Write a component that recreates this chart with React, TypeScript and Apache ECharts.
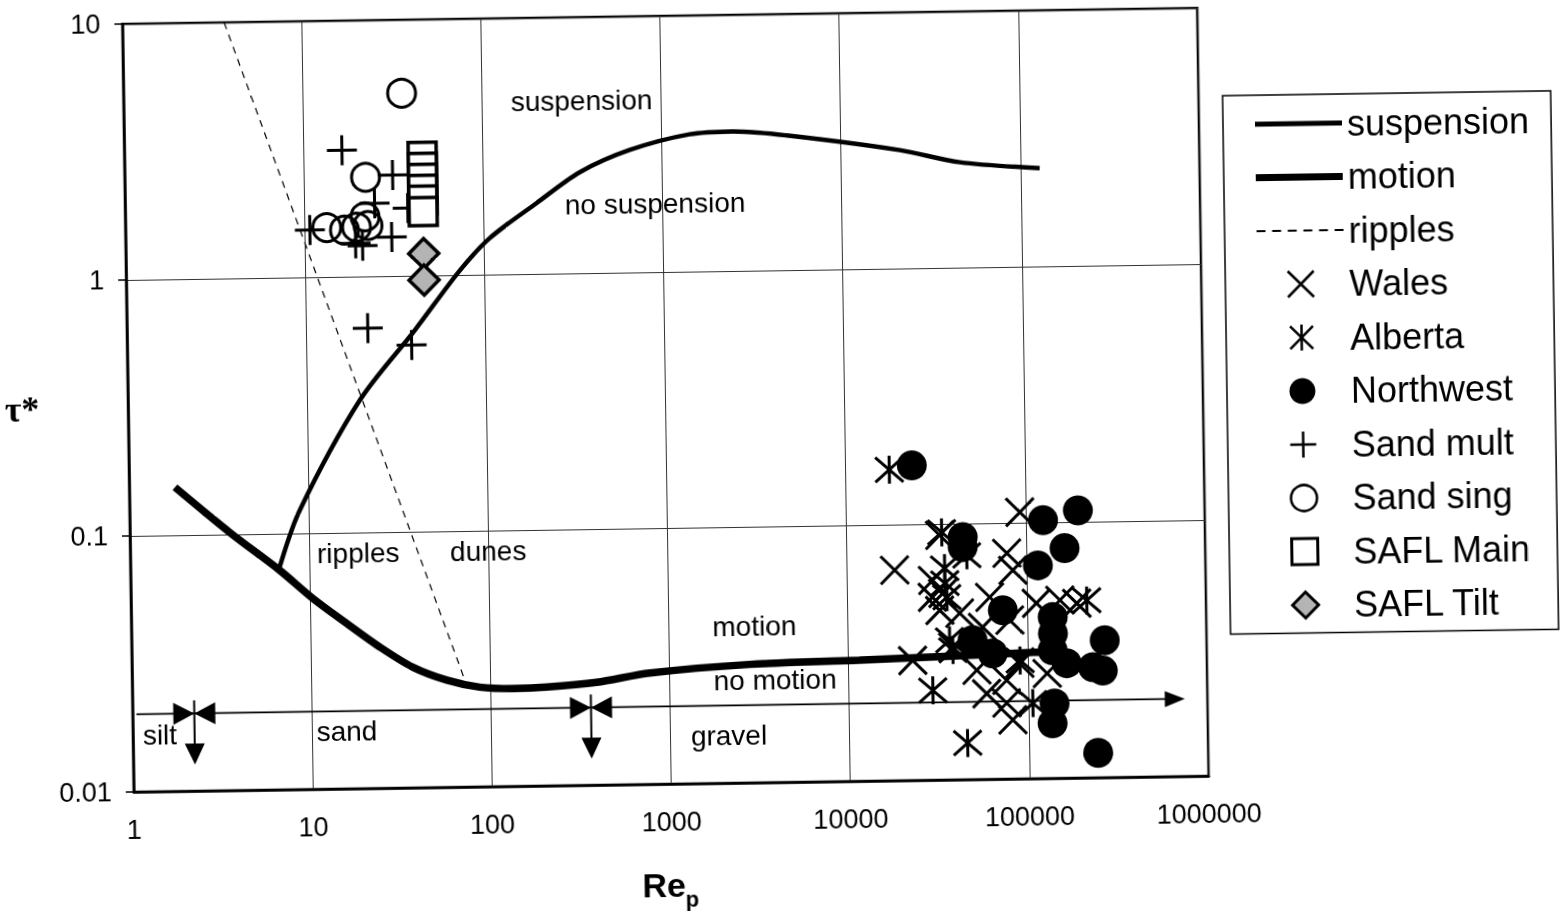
import React, { useEffect, useRef } from 'react';
import * as echarts from 'echarts';

// ---------- data (Re_p, tau*) ----------
const suspensionX = [6.8, 8.9, 19.7, 40.4, 72.8, 108, 198, 347, 662, 1438, 2500, 5000, 21300, 45900, 128000];
const suspensionY = [0.074, 0.123, 0.329, 0.612, 1.04, 1.39, 1.89, 2.48, 3.01, 3.44, 3.51, 3.36, 2.9, 2.58, 2.42];

const motionX = [1.8, 3.6, 6.8, 10.35, 15.9, 24.3, 36.9, 57.2, 86.9, 133, 206, 391, 776, 2800, 11500, 107000, 130000];
const motionY = [0.154, 0.102, 0.072, 0.0557, 0.0443, 0.0356, 0.0296, 0.0262, 0.0245, 0.0241, 0.0243, 0.0252, 0.0272, 0.029, 0.0297, 0.0311, 0.0313];

const ripplesX = [3.7, 72];
const ripplesY = [10, 0.0261];

const wales = [
  [92900, 0.11], [18400, 0.0664], [78000, 0.0762], [84000, 0.0653], [33000, 0.0904], [29900, 0.0603],
  [29700, 0.0518], [34000, 0.0536], [32600, 0.046], [42100, 0.0447], [62100, 0.0514], [80000, 0.0417],
  [113000, 0.0484], [153000, 0.0496], [190000, 0.0481], [56400, 0.0393], [38300, 0.033], [22800, 0.0294],
  [51900, 0.0267], [76000, 0.0243], [90200, 0.0282], [75700, 0.0198], [81600, 0.017], [128000, 0.0257],
  [58700, 0.0216],
];
const alberta = [
  [17500, 0.164], [33900, 0.0927], [46600, 0.0751], [35000, 0.0671], [35000, 0.0586], [35800, 0.0517],
  [216000, 0.0493], [36800, 0.0351], [38300, 0.0321], [29400, 0.0224], [106000, 0.0197], [45500, 0.0139],
  [90600, 0.029],
];
const northwest = [
  [23400, 0.17], [196000, 0.111], [125000, 0.102], [44400, 0.0885], [44300, 0.0809], [164000, 0.0791],
  [116000, 0.068], [73300, 0.0456], [139000, 0.0426], [270000, 0.0344], [49400, 0.035], [63800, 0.031],
  [138000, 0.0316], [139000, 0.0368], [165000, 0.0281], [231000, 0.027], [262000, 0.0262], [140000, 0.0196],
  [136000, 0.0164], [243000, 0.0125],
];
const sandMult = [
  [16.4, 3.12], [31.3, 2.48], [24.7, 1.93], [37.8, 1.84], [10.7, 1.53], [19.2, 1.35], [21, 1.32],
  [30.6, 1.42], [22.1, 0.628], [38.7, 0.536],
];
const sandSing = [
  [35.7, 5.17], [22.1, 2.44], [13.3, 1.56], [16.7, 1.52], [19.5, 1.56], [21.8, 1.71], [22.6, 1.58],
];
const saflMain = [[46, 2.92], [46, 2.65], [46, 2.4], [46, 2.17], [46, 1.97], [46, 1.78]];
const saflTilt = [[46, 1.22], [46, 0.96]];

// grain size classes annotation
const classLevel = 0.0201;
const classLineStart = 1.05;
const classLineEnd = 747000;
const siltSandBoundary = 2.21;
const sandGravelBoundary = 362;
const boundaryTop = 0.0226;
const boundaryBottom = 0.0127;

const xTicks = [1, 10, 100, 1000, 10000, 100000, 1000000];
const yTicks = [0.01, 0.1, 1, 10];

const FONT = "'Liberation Sans', Arial, Helvetica, sans-serif";
const X_PATH = 'path://M0,0L10,10M10,0L0,10';
const PLUS_PATH = 'path://M5,0L5,10M0,5L10,5';
const AST_PATH = 'path://M0.6,0.6L9.4,9.4M9.4,0.6L0.6,9.4M5,0L5,10';
const SUSP_ICON = 'path://M0,0H87V5H0Z';
const MOTION_ICON = 'path://M0,0H87V7H0Z';
const RIPPLE_ICON = 'path://M0,0H8V1.6H0Z M14,0H22V1.6H14Z M28,0H36V1.6H28Z M42,0H50V1.6H42Z M56,0H64V1.6H56Z M70,0H78V1.6H70Z';
const SQUARE_ICON = 'path://M0,0H10V10H0Z';
const DIAMOND_ICON = 'path://M5,0L10,5L5,10L0,5Z';

const zip = (xs: number[], ys: number[]) => xs.map((x, i) => [x, ys[i]]);
const fmt = (v: number) => String(Number(Number(v).toPrecision(6)));

export default function App() {
  const ref = useRef<HTMLDivElement>(null);

  useEffect(() => {
    if (!ref.current) return;
    const chart = echarts.init(ref.current, null, { renderer: 'svg' });

    const stroke = (w: number) => ({ color: 'transparent', borderColor: '#000', borderWidth: w, opacity: 1 });

    const option: any = {
      animation: false,
      backgroundColor: '#fff',
      grid: {
        left: 128, top: 16, width: 1075, height: 768,
        show: true, borderColor: '#000', borderWidth: 2.5, backgroundColor: 'transparent',
      },
      xAxis: {
        type: 'log', logBase: 10, min: xTicks[0], max: xTicks[xTicks.length - 1],
        axisLine: { lineStyle: { color: '#000', width: 2.5 } },
        axisTick: { show: false },
        splitLine: { show: true, lineStyle: { color: '#333', width: 1 } },
        axisLabel: { color: '#000', fontSize: 27, fontFamily: FONT, margin: 24, formatter: fmt },
      },
      yAxis: {
        type: 'log', logBase: 10, min: yTicks[0], max: yTicks[yTicks.length - 1],
        axisLine: { lineStyle: { color: '#000', width: 2.5 } },
        axisTick: { show: true, length: 8, lineStyle: { color: '#000', width: 1.5 } },
        splitLine: { show: true, lineStyle: { color: '#333', width: 1 } },
        axisLabel: { color: '#000', fontSize: 27, fontFamily: FONT, margin: 22, formatter: fmt },
      },
      legend: {
        orient: 'vertical', left: 1227, top: 104,
        padding: [11, 22, 10, 32], itemGap: 17.5, itemWidth: 87, itemHeight: 26,
        borderColor: '#000', borderWidth: 1.5, backgroundColor: '#fff',
        textStyle: { fontSize: 36, fontFamily: FONT, color: '#000' },
        data: [
          { name: 'suspension', icon: SUSP_ICON, itemStyle: { borderWidth: 0 } },
          { name: 'motion', icon: MOTION_ICON, itemStyle: { borderWidth: 0 } },
          { name: 'ripples', icon: RIPPLE_ICON, itemStyle: { borderWidth: 0 } },
          { name: 'Wales', itemStyle: { borderWidth: 2.5 } },
          { name: 'Alberta', itemStyle: { borderWidth: 2.5 } },
          { name: 'Northwest' },
          { name: 'Sand mult', itemStyle: { borderWidth: 2.5 } },
          { name: 'Sand sing', itemStyle: { borderWidth: 2.5 } },
          { name: 'SAFL Main', icon: SQUARE_ICON, itemStyle: { borderWidth: 3 } },
          { name: 'SAFL Tilt', icon: DIAMOND_ICON, itemStyle: { borderWidth: 3 } },
        ],
      },
      series: [
        {
          name: 'suspension', type: 'line', data: zip(suspensionX, suspensionY), symbol: 'none', showSymbol: false,
          smooth: 0.3, lineStyle: { color: '#000', width: 4.5 }, itemStyle: { color: '#000' }, z: 2,
        },
        {
          name: 'motion', type: 'line', data: zip(motionX, motionY), symbol: 'none', showSymbol: false,
          smooth: 0.3, lineStyle: { color: '#000', width: 7.5 }, itemStyle: { color: '#000' }, z: 2,
        },
        {
          name: 'ripples', type: 'line', data: zip(ripplesX, ripplesY), symbol: 'none', showSymbol: false,
          lineStyle: { color: '#000', width: 1.2, type: [7, 6] }, itemStyle: { color: '#000' }, z: 2,
        },
        { name: 'Wales', type: 'scatter', data: wales, symbol: X_PATH, symbolSize: 28, itemStyle: stroke(3), z: 3 },
        { name: 'Alberta', type: 'scatter', data: alberta, symbol: AST_PATH, symbolSize: 28, itemStyle: stroke(3), z: 3 },
        { name: 'Northwest', type: 'scatter', data: northwest, symbol: 'circle', symbolSize: 30, itemStyle: { color: '#000', opacity: 1 }, z: 4 },
        { name: 'Sand mult', type: 'scatter', data: sandMult, symbol: PLUS_PATH, symbolSize: 30, itemStyle: stroke(3), z: 3 },
        { name: 'Sand sing', type: 'scatter', data: sandSing, symbol: 'circle', symbolSize: 28, itemStyle: stroke(3), z: 3 },
        { name: 'SAFL Main', type: 'scatter', data: saflMain, symbol: 'rect', symbolSize: 28, itemStyle: { color: '#fff', borderColor: '#000', borderWidth: 3.5, opacity: 1 }, z: 3 },
        { name: 'SAFL Tilt', type: 'scatter', data: saflTilt, symbol: 'diamond', symbolSize: 30, itemStyle: { color: '#b4b4b4', borderColor: '#000', borderWidth: 3.5, opacity: 1 }, z: 3 },
      ],
    };
    chart.setOption(option);

    const px = (x: number, y: number) => chart.convertToPixel({ gridIndex: 0 }, [x, y]) as number[];
    const graphic: any[] = [];
    const txt = (text: string, x: number, y: number, size: number, bold = false, family = FONT) => ({
      type: 'text', x, y, z: 10,
      style: { text, fill: '#000', font: `${bold ? 'bold ' : ''}${size}px ${family}`, align: 'center', verticalAlign: 'middle' },
    });
    graphic.push(txt('suspension', 586, 99, 28));
    graphic.push(txt('no suspension', 658, 203, 28));
    graphic.push(txt('ripples', 356, 548, 28));
    graphic.push(txt('dunes', 486, 548, 28));
    graphic.push(txt('motion', 751, 627, 28));
    graphic.push(txt('no motion', 771, 681, 28));
    graphic.push(txt('silt', 155, 727, 28));
    graphic.push(txt('sand', 342, 726, 28));
    graphic.push(txt('gravel', 724, 736, 28));
    graphic.push(txt('τ*', 22, 400, 36, true, "'Liberation Serif', 'DejaVu Serif', serif"));
    graphic.push(txt('Re', 657, 885, 34, true));
    graphic.push(txt('p', 685, 899, 22, true));

    // size-class arrows
    const [lx1, ly] = px(classLineStart, classLevel);
    const [lx2] = px(classLineEnd, classLevel);
    graphic.push({ type: 'line', z: 5, shape: { x1: lx1, y1: ly, x2: lx2 - 18, y2: ly }, style: { stroke: '#000', lineWidth: 1.8 } });
    graphic.push({ type: 'polygon', z: 5, shape: { points: [[lx2, ly], [lx2 - 20, ly - 8], [lx2 - 20, ly + 8]] }, style: { fill: '#000' } });
    [siltSandBoundary, sandGravelBoundary].forEach((b) => {
      const [bx, by1] = px(b, boundaryTop);
      const [, by2] = px(b, boundaryBottom);
      graphic.push({ type: 'line', z: 5, shape: { x1: bx, y1: by1, x2: bx, y2: by2 - 18 }, style: { stroke: '#000', lineWidth: 2 } });
      graphic.push({ type: 'polygon', z: 5, shape: { points: [[bx, by2], [bx - 10, by2 - 21], [bx + 10, by2 - 21]] }, style: { fill: '#000' } });
      graphic.push({ type: 'polygon', z: 5, shape: { points: [[bx, ly], [bx - 21, ly - 11], [bx - 21, ly + 11]] }, style: { fill: '#000' } });
      graphic.push({ type: 'polygon', z: 5, shape: { points: [[bx, ly], [bx + 21, ly - 11], [bx + 21, ly + 11]] }, style: { fill: '#000' } });
    });
    chart.setOption({ graphic });

    return () => chart.dispose();
  }, []);

  return (
    <div
      ref={ref}
      style={{
        position: 'fixed', left: 0, top: 0, width: 1562, height: 911, background: '#fff',
        transform: 'rotate(-0.85deg)', transformOrigin: '665.75px 399.75px',
      }}
    />
  );
}
